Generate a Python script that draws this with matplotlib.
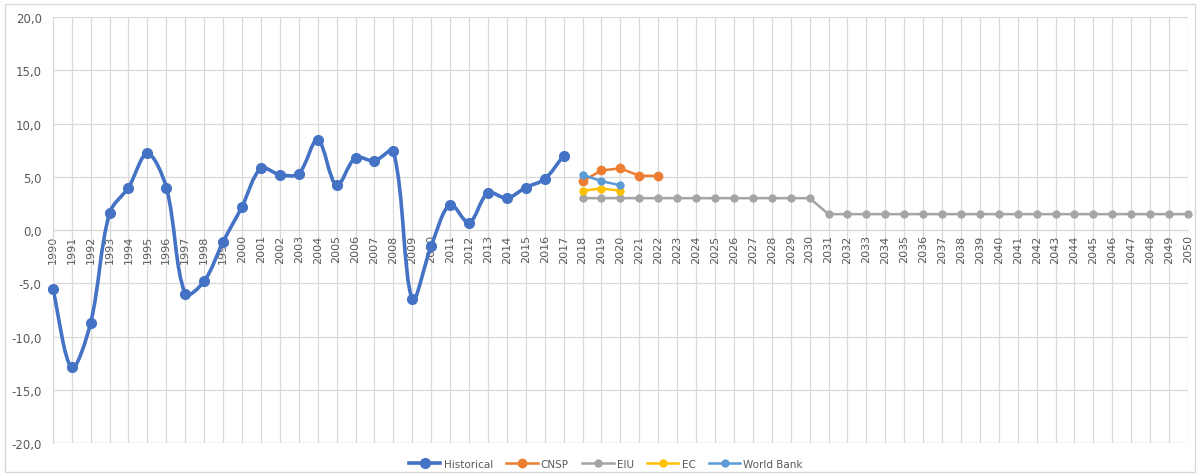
import numpy as np
import matplotlib.pyplot as plt
from matplotlib.path import Path
from matplotlib.patches import PathPatch, Rectangle
from matplotlib.lines import Line2D
from matplotlib.ticker import FuncFormatter

# growth series, %
hist_years = list(range(1990, 2018))
hist_vals = [-5.5, -12.9, -8.7, 1.6, 4.0, 7.2, 4.0, -6.0, -4.8, -1.1,
             2.2, 5.8, 5.2, 5.3, 8.5, 4.2, 6.8, 6.5, 7.4, -6.5,
             -1.5, 2.4, 0.7, 3.5, 3.0, 4.0, 4.8, 7.0]

cnsp_years = [2018, 2019, 2020, 2021, 2022]
cnsp_vals = [4.6, 5.6, 5.8, 5.1, 5.1]

eiu_years = list(range(2018, 2051))
eiu_vals = [3.0] * 13 + [1.5] * 20

ec_years = [2018, 2019, 2020]
ec_vals = [3.7, 3.9, 3.7]

wb_years = [2018, 2019, 2020]
wb_vals = [5.2, 4.6, 4.2]

BLUE = '#4472C4'
ORANGE = '#ED7D31'
GREY = '#A5A5A5'
GOLD = '#FFC000'
LIGHTBLUE = '#5B9BD5'
TXT = '#595959'


def smooth_path(x, y, xs=1.8):
    # bezier through the points: tangent from the neighbours, handle length
    # split by the lengths of the two adjacent segments (screen aspect via xs)
    p = np.column_stack([np.asarray(x, float) * xs, np.asarray(y, float)])
    n = len(p)
    fwd = np.zeros_like(p)
    bwd = np.zeros_like(p)
    for i in range(n):
        a = p[max(i - 1, 0)]
        b = p[min(i + 1, n - 1)]
        d_prev = np.hypot(*(p[i] - a))
        d_next = np.hypot(*(b - p[i]))
        tot = d_prev + d_next
        if i == 0 or i == n - 1:
            fwd[i] = p[i] + (b - a) / 3 * (d_next > 0)
            bwd[i] = p[i] - (b - a) / 3 * (d_prev > 0)
            continue
        fwd[i] = p[i] + (b - a) / 3 * d_next / tot
        bwd[i] = p[i] - (b - a) / 3 * d_prev / tot
    verts = [tuple(p[0])]
    codes = [Path.MOVETO]
    for i in range(n - 1):
        verts += [tuple(fwd[i]), tuple(bwd[i + 1]), tuple(p[i + 1])]
        codes += [Path.CURVE4] * 3
    verts = [(vx / xs, vy) for vx, vy in verts]
    return Path(verts, codes)


fig = plt.figure(figsize=(12, 4.77), dpi=100)
ax = fig.add_axes([0.044, 0.069, 0.946, 0.893])

ax.add_patch(PathPatch(smooth_path(hist_years, hist_vals), fill=False,
                       edgecolor=BLUE, lw=2.6, zorder=3, capstyle='round'))
ax.plot(hist_years, hist_vals, 'o', color=BLUE, ms=7, zorder=4, clip_on=False)

ax.plot(cnsp_years, cnsp_vals, '-o', color=ORANGE, lw=1.8, ms=6, zorder=3)
ax.plot(eiu_years, eiu_vals, '-o', color=GREY, lw=1.8, ms=5, zorder=3, clip_on=False)
ax.plot(ec_years, ec_vals, '-o', color=GOLD, lw=1.8, ms=5, zorder=3)
ax.plot(wb_years, wb_vals, '-o', color=LIGHTBLUE, lw=1.8, ms=5, zorder=3)

ax.set_xlim(1990, 2050)
ax.set_ylim(-20, 20)
for s in ['top', 'right']:
    ax.spines[s].set_visible(False)
ax.spines['left'].set_color('#D9D9D9')
ax.spines['bottom'].set_position(('data', 0))
ax.spines['bottom'].set_color('#D9D9D9')

ax.set_yticks(np.arange(-20, 21, 5))
ax.yaxis.set_major_formatter(FuncFormatter(lambda v, p: f'{v:.1f}'.replace('.', ',')))
ax.set_xticks(range(1990, 2051))
ax.set_xticklabels([str(y) for y in range(1990, 2051)])
ax.tick_params(axis='y', labelsize=8.5, colors=TXT, length=0, pad=8)
ax.tick_params(axis='x', length=0, pad=3, labelrotation=90, labelcolor=TXT)
for lab in ax.get_xticklabels():
    lab.set_fontfamily(['Liberation Sans Narrow', 'DejaVu Sans'])
    lab.set_fontsize(8)

ax.grid(True, color='#D9D9D9', lw=0.9)
ax.set_axisbelow(True)
ax.axhline(-20, color='#D9D9D9', lw=0.9, zorder=0)

handles = [
    Line2D([], [], color=BLUE, lw=2.6, marker='o', ms=7),
    Line2D([], [], color=ORANGE, lw=1.8, marker='o', ms=6),
    Line2D([], [], color=GREY, lw=1.8, marker='o', ms=5),
    Line2D([], [], color=GOLD, lw=1.8, marker='o', ms=5),
    Line2D([], [], color=LIGHTBLUE, lw=1.8, marker='o', ms=5),
]
fig.legend(handles, ['Historical', 'CNSP', 'EIU', 'EC', 'World Bank'],
           loc='center', bbox_to_anchor=(0.505, 0.025), ncol=5, frameon=False,
           fontsize=7.5, labelcolor=TXT, handlelength=3.0, columnspacing=1.3,
           handletextpad=0.3)

fig.add_artist(Rectangle((0.004, 0.008), 0.992, 0.982, transform=fig.transFigure,
                         fill=False, edgecolor='#D9D9D9', lw=1))

fig.savefig('out.png', dpi=100)
